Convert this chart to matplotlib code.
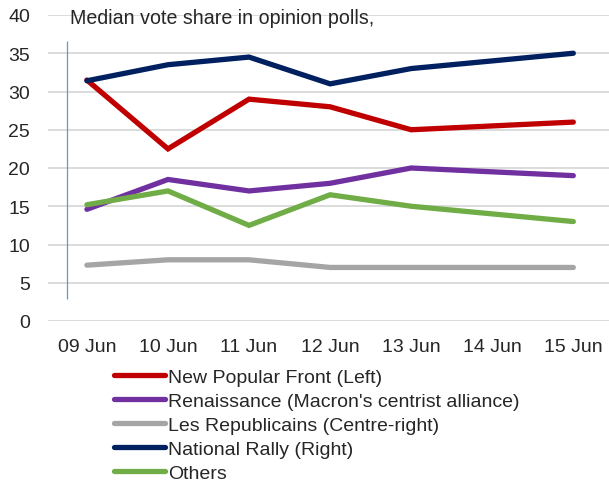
"""French election polls: median vote share by party, 9-15 June"""
import matplotlib.pyplot as plt

plt.rcParams['font.family'] = ['Liberation Sans', 'DejaVu Sans']

FONT_SIZE = 14
GRID_COLOR = "#d9d9d9"

days = ["09 Jun", "10 Jun", "11 Jun", "12 Jun", "13 Jun", "14 Jun", "15 Jun"]
# polls were published on these days (none on 14 Jun)
poll_days = ["09 Jun", "10 Jun", "11 Jun", "12 Jun", "13 Jun", "15 Jun"]

new_popular_front = [31.5, 22.5, 29.0, 28.0, 25.0, 26.0]
renaissance = [14.6, 18.5, 17.0, 18.0, 20.0, 19.0]
les_republicains = [7.3, 8.0, 8.0, 7.0, 7.0, 7.0]
national_rally = [31.4, 33.5, 34.5, 31.0, 33.0, 35.0]
others = [15.2, 17.0, 12.5, 16.5, 15.0, 13.0]

series = [
    ("New Popular Front (Left)", new_popular_front, "#c00000"),
    ("Renaissance (Macron's centrist alliance)", renaissance, "#7030a0"),
    ("Les Republicains (Centre-right)", les_republicains, "#a5a5a5"),
    ("National Rally (Right)", national_rally, "#002060"),
    ("Others", others, "#70ad47"),
]

fig = plt.figure(figsize=(6.09, 4.85), dpi=100)
ax = fig.add_axes([48 / 609, 1 - 322 / 485, 1 - 48 / 609, (322 - 16) / 485])

x = [days.index(d) for d in poll_days]
for name, values, color in series:
    ax.plot(x, values, color=color, linewidth=3.8, label=name,
            solid_capstyle="round", solid_joinstyle="miter")

ax.set_xlim(-0.48, 6.44)
ax.set_ylim(0, 40)
ax.set_yticks(range(0, 41, 5))
ax.set_xticks(range(len(days)))
ax.set_xticklabels(days)
ax.tick_params(length=0, labelsize=FONT_SIZE, colors="#262626")
ax.tick_params(axis="y", pad=13)
ax.tick_params(axis="x", pad=12)
ax.grid(axis="y", color=GRID_COLOR, linewidth=1.3)
ax.set_axisbelow(True)
for spine in ax.spines.values():
    spine.set_visible(False)

# thin marker line down the left side of the plot
ax.vlines(-0.25, 2.9, 36.6, color="#5b9bd5", linewidth=0.9)

fig.text(70 / 609, 1 - 24 / 485, "Median vote share in opinion polls,",
         fontsize=14.1, color="#262626", va="baseline")

fig.legend(loc="upper left", bbox_to_anchor=(114 / 609, 1 - 369 / 485),
           frameon=False, fontsize=FONT_SIZE, handlelength=2.6,
           handletextpad=0.2, labelspacing=0.33, borderpad=0,
           borderaxespad=0, labelcolor="#262626")

plt.savefig("out.png", dpi=100)
